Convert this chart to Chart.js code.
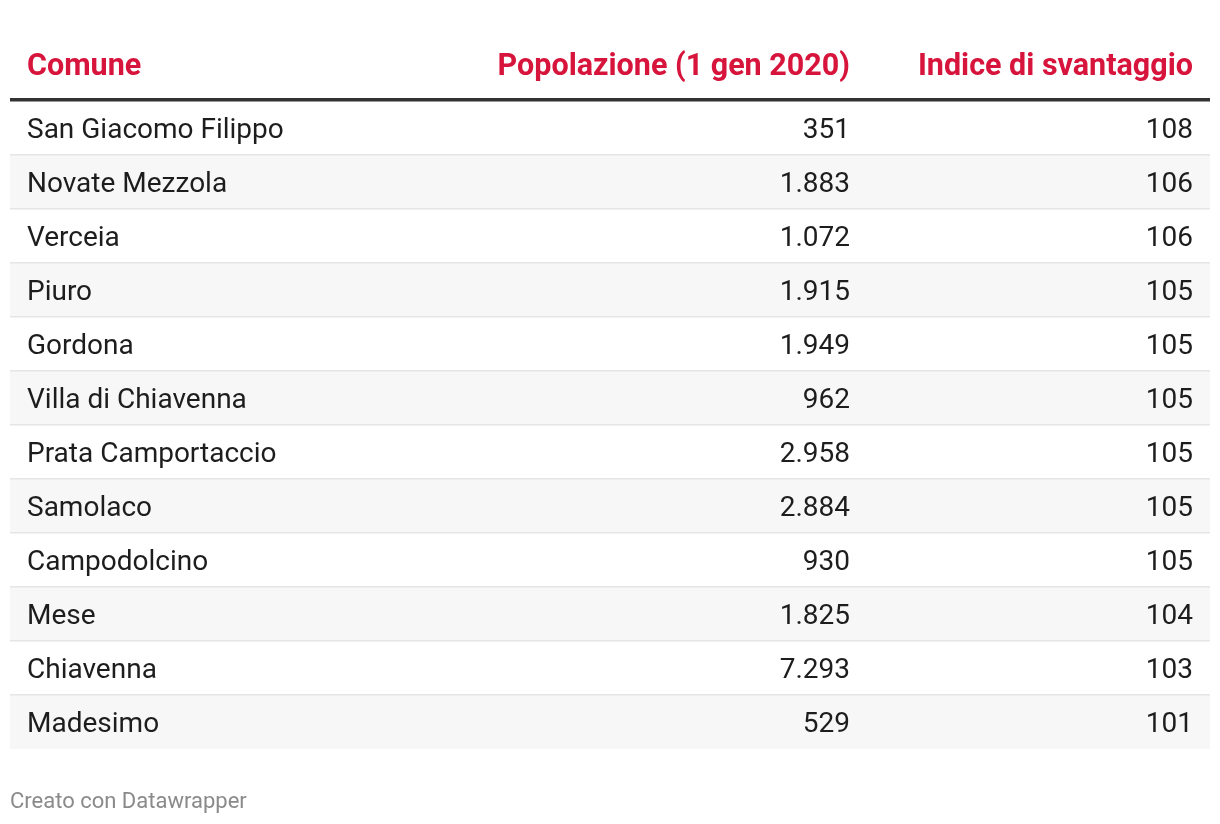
<!DOCTYPE html>
<html>
<head>
<meta charset="utf-8">
<script src="https://cdn.jsdelivr.net/npm/chart.js@4"></script>
<style>
  html, body { margin: 0; padding: 0; background: #ffffff; }
  #wrap { position: relative; width: 1220px; height: 824px; }
</style>
</head>
<body>
<div id="wrap"><canvas id="c" width="1220" height="824"></canvas></div>
<script>
// ---- data ----
const comuni = ["San Giacomo Filippo","Novate Mezzola","Verceia","Piuro","Gordona","Villa di Chiavenna","Prata Camportaccio","Samolaco","Campodolcino","Mese","Chiavenna","Madesimo"];
const popolazione = [351,1883,1072,1915,1949,962,2958,2884,930,1825,7293,529];
const indice = [108,106,106,105,105,105,105,105,105,104,103,101];
const headers = ["Comune","Popolazione (1 gen 2020)","Indice di svantaggio"];
const footer = "Creato con Datawrapper";

function fmtIt(n) {
  return String(n).replace(/\B(?=(\d{3})+(?!\d))/g, ".");
}

const FONT = "Roboto, 'Noto Sans', sans-serif";
const HEADER_COLOR = "#d7143b";
const TEXT_COLOR = "#1d1d1d";

const tablePlugin = {
  id: "tablePlugin",
  beforeDatasetsDraw(chart) {
    const ctx = chart.ctx;
    const y = chart.scales.y;
    const area = chart.chartArea;
    const step = y.getPixelForValue(1) - y.getPixelForValue(0);
    ctx.save();
    // stripes
    for (let i = 0; i < comuni.length; i++) {
      const cy = y.getPixelForValue(i);
      const top = cy - step / 2, bot = cy + step / 2;
      if (i % 2 === 1) {
        ctx.fillStyle = "#f7f7f7";
        ctx.fillRect(area.left, top, area.right - area.left, bot - top);
      }
    }
    // separators
    ctx.fillStyle = "#e5e5e5";
    for (let i = 1; i < comuni.length; i++) {
      const cy = y.getPixelForValue(i);
      const top = Math.round(cy - step / 2);
      ctx.fillRect(area.left, top - 1, area.right - area.left, 1.5);
    }
    ctx.restore();
  },
  afterDatasetsDraw(chart) {
    const ctx = chart.ctx;
    const y = chart.scales.y;
    const area = chart.chartArea;
    const colLeft = area.left + 17;
    const colPop = 850;
    const colIdx = area.right - 17;
    ctx.save();
    // header
    ctx.font = "bold 30.5px " + FONT;
    ctx.fillStyle = HEADER_COLOR;
    ctx.textBaseline = "alphabetic";
    const hy = 75;
    ctx.textAlign = "left";  ctx.fillText(headers[0], colLeft, hy);
    ctx.textAlign = "right"; ctx.fillText(headers[1], colPop, hy);
    ctx.fillText(headers[2], colIdx, hy);
    // header rule
    ctx.fillStyle = "#333333";
    ctx.fillRect(area.left, area.top - 3, area.right - area.left, 3.5);
    // body
    ctx.font = "28px " + FONT;
    ctx.fillStyle = TEXT_COLOR;
    ctx.textBaseline = "alphabetic";
    for (let i = 0; i < comuni.length; i++) {
      const cy = y.getPixelForValue(i) + 10;
      ctx.textAlign = "left";  ctx.fillText(comuni[i], colLeft, cy);
      ctx.textAlign = "right"; ctx.fillText(fmtIt(popolazione[i]), colPop, cy);
      ctx.fillText(String(indice[i]), colIdx, cy);
    }
    // footer
    ctx.font = "22px " + FONT;
    ctx.fillStyle = "#8a8a8a";
    ctx.textAlign = "left";
    ctx.textBaseline = "alphabetic";
    ctx.fillText(footer, 10, 808);
    ctx.restore();
  }
};

new Chart(document.getElementById("c"), {
  type: "bar",
  data: {
    labels: comuni,
    datasets: [
      { label: "Popolazione (1 gen 2020)", data: popolazione, backgroundColor: "rgba(0,0,0,0)", borderWidth: 0 }
    ]
  },
  options: {
    indexAxis: "y",
    responsive: false,
    animation: false,
    events: [],
    layout: { padding: { top: 101, bottom: 75, left: 10, right: 10 } },
    scales: {
      x: { display: false, min: 0 },
      y: { display: false, offset: true }
    },
    plugins: { legend: { display: false }, tooltip: { enabled: false } }
  },
  plugins: [tablePlugin]
});
</script>
</body>
</html>
